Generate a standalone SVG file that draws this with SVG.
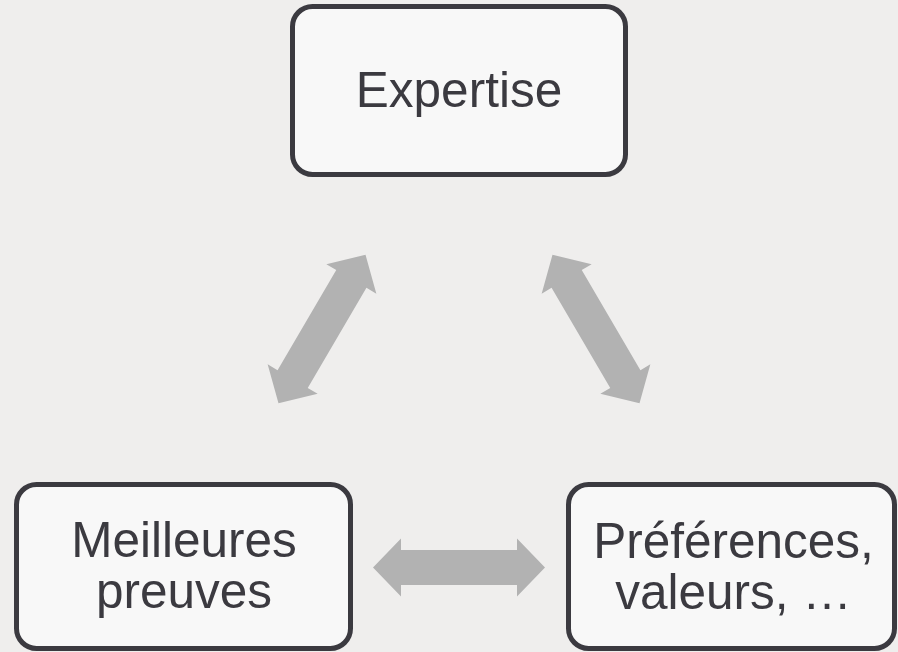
<svg xmlns="http://www.w3.org/2000/svg" width="898" height="652" viewBox="0 0 898 652">
  <defs>
    <style>
      .box { fill: #f8f8f8; stroke: #3b3a40; stroke-width: 5; }
      .label { font-family: "Liberation Sans", Arial, sans-serif; font-size: 49.5px; fill: #3b3a40; text-anchor: middle; }
      .arrow { fill: #b2b2b2; }
    </style>
    <!-- double-headed block arrow, centred on the origin, pointing along x -->
    <polygon id="dbl" points="-86,0 -58,-29 -58,-17.5 58,-17.5 58,-29 86,0 58,29 58,17.5 -58,17.5 -58,29"/>
  </defs>

  <rect width="898" height="652" fill="#efeeed"/>

  <g id="connectors" class="arrow">
    <use href="#dbl" transform="translate(322,329) rotate(-59.6)"/>
    <use href="#dbl" transform="translate(596,329) rotate(59.6)"/>
    <use href="#dbl" transform="translate(459,567.5)"/>
  </g>

  <g id="expertise">
    <rect class="box" x="292.5" y="6.5" width="333" height="168" rx="20"/>
    <text class="label" x="459" y="107">Expertise</text>
  </g>

  <g id="meilleures-preuves">
    <rect class="box" x="16.5" y="484.5" width="334" height="164" rx="20"/>
    <text class="label" x="184" y="557">Meilleures</text>
    <text class="label" x="184" y="608">preuves</text>
  </g>

  <g id="preferences-valeurs">
    <rect class="box" x="568.5" y="484.5" width="326" height="164" rx="20"/>
    <text class="label" x="733.5" y="558">Préférences,</text>
    <text class="label" x="733.5" y="609">valeurs, …</text>
  </g>
</svg>
